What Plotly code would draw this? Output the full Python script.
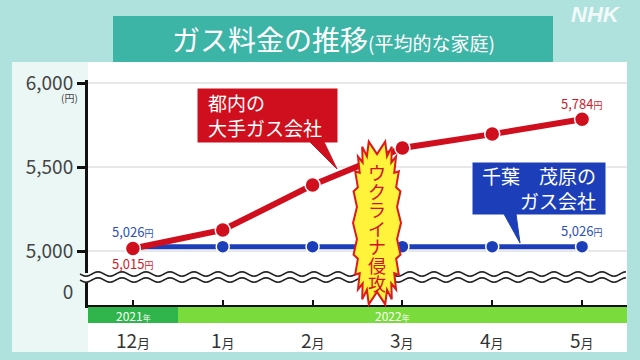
import math
import plotly.graph_objects as go

# ---------------- data ----------------
months = ["12月", "1月", "2月", "3月", "4月", "5月"]
month_nums = ["12", "1", "2", "3", "4", "5"]
tokyo_gas = [5015, 5125, 5393, 5613, 5696, 5784]     # 都内の大手ガス会社
mobara_gas = [5026, 5026, 5026, 5026, 5026, 5026]    # 千葉 茂原のガス会社
y_ticks = [5000, 5500, 6000]
y_tick_labels = ["5,000", "5,500", "6,000"]

FONT = "Noto Sans CJK JP"
RED = "#cf0f1d"
BLUE = "#1c3fb9"

# pixel -> paper helpers (plot area in pixels)
PL, PR, PT, PB = 88, 627, 80, 305
def X(p):
    return (p - PL) / (PR - PL)
def Y(p):
    return (PB - p) / (PB - PT)

xs = list(range(len(months)))

fig = go.Figure()
# empty trace so the lower (broken) axis subplot exists
fig.add_trace(go.Scatter(x=[], y=[], xaxis="x", yaxis="y", showlegend=False,
                         hoverinfo="skip"))
fig.add_trace(go.Scatter(
    x=xs, y=mobara_gas, mode="lines+markers", xaxis="x", yaxis="y2",
    line=dict(color=BLUE, width=5),
    marker=dict(size=13, color=BLUE, line=dict(color="white", width=1.5)),
    showlegend=False, hoverinfo="skip"))
fig.add_trace(go.Scatter(
    x=xs, y=tokyo_gas, mode="lines+markers", xaxis="x", yaxis="y2",
    line=dict(color=RED, width=6),
    marker=dict(size=15, color=RED, line=dict(color="white", width=1.5)),
    showlegend=False, hoverinfo="skip"))

shapes = []
# panel background
shapes.append(dict(type="rect", xref="paper", yref="paper", layer="below",
                   x0=X(12), x1=X(627), y0=Y(352), y1=Y(62),
                   fillcolor="#eaf7f5", line=dict(width=0)))
shapes.append(dict(type="rect", xref="paper", yref="paper", layer="below",
                   x0=X(88), x1=X(627), y0=Y(352), y1=Y(62),
                   fillcolor="white", line=dict(width=0)))
# year band
shapes.append(dict(type="rect", xref="paper", yref="paper", layer="above",
                   x0=X(88), x1=X(178), y0=Y(323), y1=Y(307),
                   fillcolor="#2fb54b", line=dict(width=0)))
shapes.append(dict(type="rect", xref="paper", yref="paper", layer="above",
                   x0=X(178), x1=X(627), y0=Y(323), y1=Y(307),
                   fillcolor="#79dc3c", line=dict(width=0)))

# axis break (double wavy line)
def wave_pts(y0, x0=80, x1=627, amp=2.2, period=24):
    pts = []
    x = x0
    while x <= x1:
        pts.append((x, y0 + amp * math.sin(2 * math.pi * (x - x0) / period)))
        x += 2
    return pts
w1 = wave_pts(274)
w2 = wave_pts(280)
fill_path = "M " + " L ".join(f"{X(a):.4f},{Y(b):.4f}" for a, b in w1)
fill_path += " L " + " L ".join(f"{X(a):.4f},{Y(b):.4f}" for a, b in reversed(w2)) + " Z"
shapes.append(dict(type="path", xref="paper", yref="paper", layer="above",
                   path=fill_path, fillcolor="white", line=dict(width=0)))
for w in (w1, w2):
    p = "M " + " L ".join(f"{X(a):.4f},{Y(b):.4f}" for a, b in w)
    shapes.append(dict(type="path", xref="paper", yref="paper", layer="above",
                       path=p, line=dict(color="#222", width=1.6)))

# title box
shapes.append(dict(type="rect", xref="paper", yref="paper", layer="above",
                   x0=X(113), x1=X(553), y0=Y(62), y1=Y(16),
                   fillcolor="#3db5a6", line=dict(width=0)))

# red callout
shapes.append(dict(type="rect", xref="paper", yref="paper", layer="above",
                   x0=X(197), x1=X(338), y0=Y(143), y1=Y(88),
                   fillcolor=RED, line=dict(color="white", width=1)))
shapes.append(dict(type="path", xref="paper", yref="paper", layer="above",
                   path=f"M {X(310)},{Y(142)} L {X(337)},{Y(169)} L {X(324)},{Y(142)} Z",
                   fillcolor=RED, line=dict(color=RED, width=1)))
# blue callout
shapes.append(dict(type="rect", xref="paper", yref="paper", layer="above",
                   x0=X(472), x1=X(606), y0=Y(215), y1=Y(162),
                   fillcolor=BLUE, line=dict(color="white", width=1)))
shapes.append(dict(type="path", xref="paper", yref="paper", layer="above",
                   path=f"M {X(504)},{Y(214)} L {X(520)},{Y(243)} L {X(516)},{Y(214)} Z",
                   fillcolor=BLUE, line=dict(color=BLUE, width=1)))

# burst
cx, cy, rx, ry = 377, 223, 24, 82
N = 44
pts = []
for i in range(N):
    t = 2 * math.pi * i / N
    f = 1.0 if i % 2 == 0 else 0.84
    c, s = math.cos(t), math.sin(t)
    xx = cx + rx * f * math.copysign(abs(c) ** 0.55, c)
    yy = cy + ry * f * math.copysign(abs(s) ** 0.75, s)
    pts.append((xx, yy))
bpath = "M " + " L ".join(f"{X(a):.4f},{Y(b):.4f}" for a, b in pts) + " Z"
shapes.append(dict(type="path", xref="paper", yref="paper", layer="above",
                   path=bpath, fillcolor="#fff33b", line=dict(color="#dd1a1a", width=2)))

ann = []
def A(x, y, text, size, color, xanchor="center", yanchor="middle", **kw):
    d = dict(xref="paper", yref="paper", x=X(x), y=Y(y), showarrow=False, text=text,
             xanchor=xanchor, yanchor=yanchor,
             font=dict(family=kw.pop("family", FONT), size=size, color=color))
    d.update(kw)
    ann.append(d)

# title
A(333, 39, "ガス料金の推移<span style='font-size:19px'>(平均的な家庭)</span>", 28, "white")
# NHK logo
A(596, 15, "<b><i>NHK</i></b>", 22, "rgba(255,255,255,0.85)", family="Liberation Sans")
# yen unit
A(69, 98, "(円)", 10, "#444")
# year labels
A(133, 315, "2021<span style='font-size:8px'>年</span>", 12, "white")
A(392, 315, "2022<span style='font-size:8px'>年</span>", 12, "white")
# callout texts
A(206, 115, "都内の<br>大手ガス会社", 19, "white", xanchor="left", align="left")
A(598, 188, "千葉　茂原の<br>ガス会社", 19, "white", xanchor="right", align="right")
# burst vertical text
for i, ch in enumerate("ウクライナ侵攻"):
    A(377, 172 + i * 18.5, ch, 18, "#d4101e")

# month labels along x axis (data-referenced x)
for xv, n in zip(xs, month_nums):
    ann.append(dict(xref="x", yref="paper", x=xv, y=Y(339), showarrow=False,
                    xanchor="center", yanchor="middle",
                    text=f"{n}<span style='font-size:13px'>月</span>",
                    font=dict(family=FONT, size=19, color="#333")))

# value labels
def yen(v):
    return f"{v:,}<span style='font-size:9px'>円</span>"
def V(xv, yv, shift, color):
    ann.append(dict(xref="x", yref="y2", x=xv, y=yv, yshift=shift, showarrow=False,
                    xanchor="center", yanchor="middle", text=yen(yv),
                    font=dict(family=FONT, size=13, color=color)))
V(xs[0], mobara_gas[0], 15, "#2b4fc2")
V(xs[-1], mobara_gas[-1], 16, "#2b4fc2")
V(xs[0], tokyo_gas[0], -15, "#d21a2a")
V(xs[-1], tokyo_gas[-1], 16, "#d21a2a")

fig.update_layout(
    width=640, height=360,
    margin=dict(l=PL, r=640 - PR, t=PT, b=360 - PB, pad=0, autoexpand=False),
    paper_bgcolor="#afe2dc", plot_bgcolor="white",
    font=dict(family=FONT, color="#333"),
    xaxis=dict(range=[-0.5, len(months) - 0.5], tickvals=xs, ticktext=months,
               showticklabels=False, automargin=False,
               anchor="y", showline=True, linecolor="#111", linewidth=3,
               ticks="inside", ticklen=5, tickwidth=2, tickcolor="#111",
               showgrid=False, zeroline=False),
    yaxis=dict(domain=[0, (PB - 281) / (PB - PT)], automargin=False,
               range=[-13, 12], tickvals=[0], ticktext=["0"],
               showline=True, linecolor="#111", linewidth=3,
               ticks="outside", ticklen=8, tickwidth=3, tickcolor="rgba(0,0,0,0)",
               showgrid=False, zeroline=False,
               tickfont=dict(family=FONT, size=19, color="#444"), anchor="x"),
    yaxis2=dict(domain=[(PB - 273) / (PB - PT), 1], range=[4869, 6018], automargin=False,
                tickvals=y_ticks, ticktext=y_tick_labels,
                showline=True, linecolor="#111", linewidth=3,
                ticks="outside", ticklen=8, tickwidth=3, tickcolor="#111",
                showgrid=True, gridcolor="#e8e8e8", gridwidth=1.5, zeroline=False,
                tickfont=dict(family=FONT, size=19, color="#444"), anchor="x"),
    shapes=shapes, annotations=ann,
)

fig.write_html("out.html", config={"displayModeBar": False},
               post_script="document.body.style.margin='0';document.body.style.background='#afe2dc';")
